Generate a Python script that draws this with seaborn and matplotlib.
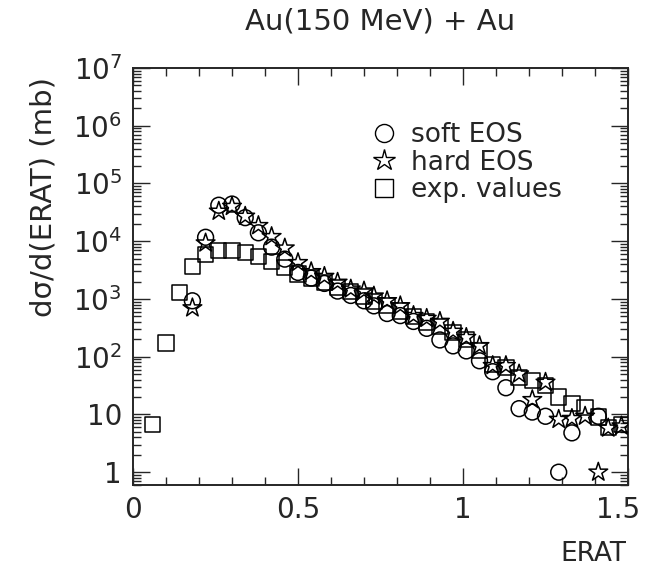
import numpy as np
import pandas as pd
import matplotlib
matplotlib.use("Agg")
import matplotlib.pyplot as plt
import matplotlib.transforms as mtransforms
import seaborn as sns
from matplotlib.ticker import FixedLocator, FixedFormatter, LogLocator, MultipleLocator, NullFormatter
from matplotlib.lines import Line2D

nan = np.nan
erat = [0.06, 0.10, 0.14, 0.18, 0.22, 0.26, 0.30, 0.34, 0.38, 0.42,
        0.46, 0.50, 0.54, 0.58, 0.62, 0.66, 0.70, 0.73, 0.77, 0.81,
        0.85, 0.89, 0.93, 0.97, 1.01, 1.05, 1.09, 1.13, 1.17, 1.21,
        1.25, 1.29, 1.33, 1.37, 1.41, 1.44, 1.48]
soft_eos = [nan, nan, nan, 930, 11700, 42000, 44000, 25600, 14000, 7900,
            4900, 2880, 2300, 1860, 1370, 1150, 930, 760, 560, 515,
            408, 310, 195, 154, 126, 85, 55, 29, 12.6, 11,
            9.3, 1.0, 4.8, nan, 9.3, nan, nan]
hard_eos = [nan, nan, nan, 700, 9300, 33000, 40000, 27000, 18600, 12000,
            7600, 4250, 2960, 2450, 1940, 1480, 1370, 1120, 930, 760,
            515, 460, 408, 275, 215, 155, 70, 70, 50, 18,
            36, 8.2, 8.5, 9.3, 1.0, 5.8, 6.3]
exp_values = [6.8, 173, 1300, 3600, 5800, 7000, 7000, 6300, 5400, 4400,
              3470, 2700, 2300, 1900, 1600, 1350, 1100, 900, 780, 620,
              500, 400, 330, 260, 200, 130, 73, 65, 44, 39,
              32, 20, 15.4, 13, 9, 6, 6.8]

series_labels = ["soft EOS", "hard EOS", "exp. values"]
x_ticks = [0, 0.5, 1, 1.5]
x_ticklabels = ["0", "0.5", "1", "1.5"]
y_ticks = [1, 10, 1e2, 1e3, 1e4, 1e5, 1e6, 1e7]
y_ticklabels = ["1", "10", r"$10^{2}$", r"$10^{3}$", r"$10^{4}$", r"$10^{5}$", r"$10^{6}$", r"$10^{7}$"]

df = pd.DataFrame({"ERAT": erat, "soft": soft_eos, "hard": hard_eos, "exp": exp_values})

sns.set_style("ticks")
plt.rcParams["font.family"] = ["DejaVu Sans"]
plt.rcParams["mathtext.fontset"] = "dejavusans"

fig = plt.figure(figsize=(6.45, 5.69), dpi=100)
ax = fig.add_axes([133 / 645, 1 - 485 / 569, 495 / 645, 417 / 569])

kw = dict(facecolor="none", edgecolor="black", linewidth=1.1, ax=ax, legend=False, zorder=3)
sns.scatterplot(data=df, x="ERAT", y="exp", marker="s", s=120, **kw)
sns.scatterplot(data=df, x="ERAT", y="soft", marker="o", s=130, **kw)
sns.scatterplot(data=df, x="ERAT", y="hard", marker="*", s=200, **kw)

ax.set_yscale("log")
ax.set_xlim(0, 1.5)
ax.set_ylim(0.6, 1e7)

ax.xaxis.set_major_locator(FixedLocator(x_ticks))
ax.xaxis.set_major_formatter(FixedFormatter(x_ticklabels))
ax.xaxis.set_minor_locator(MultipleLocator(0.1))
ax.yaxis.set_major_locator(FixedLocator(y_ticks))
ax.yaxis.set_major_formatter(FixedFormatter(y_ticklabels))
ax.yaxis.set_minor_locator(LogLocator(base=10, subs=np.arange(2, 10), numticks=20))
ax.yaxis.set_minor_formatter(NullFormatter())

ax.tick_params(which="both", direction="in", top=True, right=True, width=1.0, labelsize=20, pad=8)
ax.tick_params(which="major", length=12)
ax.tick_params(which="minor", length=6)
for sp in ax.spines.values():
    sp.set_linewidth(1.4)

fig.canvas.draw()
last = ax.get_xticklabels()[-1]
last.set_horizontalalignment("right")
last.set_transform(last.get_transform() + mtransforms.ScaledTranslation(12 / 100, 0, fig.dpi_scale_trans))

ax.set_xlabel("ERAT", fontsize=19, va="center")
ax.xaxis.set_label_coords(0.93, -0.165)
ax.set_ylabel("dσ/d(ERAT) (mb)", fontsize=21, va="center")
ax.yaxis.set_label_coords(-0.18, 0.69)
ax.set_title("Au(150 MeV) + Au", fontsize=21, pad=28)

handles = [
    Line2D([], [], marker="o", linestyle="none", markerfacecolor="none", markeredgecolor="black", markersize=13),
    Line2D([], [], marker="*", linestyle="none", markerfacecolor="none", markeredgecolor="black", markersize=16),
    Line2D([], [], marker="s", linestyle="none", markerfacecolor="none", markeredgecolor="black", markersize=13),
]
ax.legend(handles, series_labels, loc="upper left", bbox_to_anchor=(0.46, 0.895), frameon=False,
          fontsize=19, handlelength=1.0, handletextpad=0.5, labelspacing=0.05, borderaxespad=0)

fig.savefig("out.png", dpi=100)
